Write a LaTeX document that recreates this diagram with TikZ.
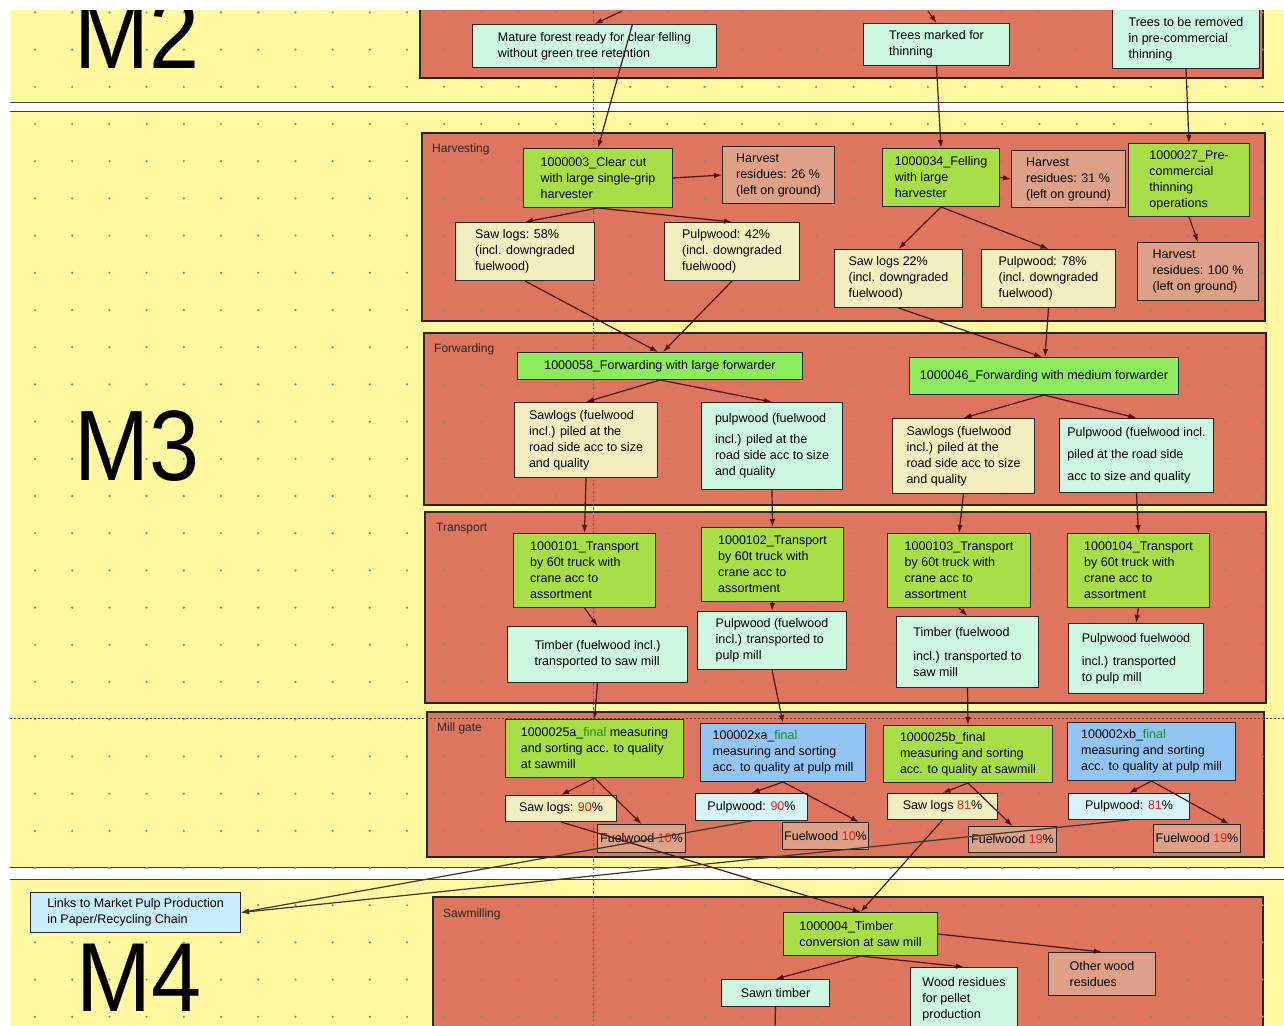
\documentclass[tikz,border=0pt]{standalone}
\usepackage{fontspec}
\setmainfont{Liberation Sans}
\usetikzlibrary{arrows.meta,calc}
\definecolor{bgY}{RGB}{255,248,160}
\definecolor{panelR}{RGB}{221,117,95}
\definecolor{procG}{RGB}{168,222,72}
\definecolor{fwdG}{RGB}{140,236,92}
\definecolor{outY}{RGB}{242,238,192}
\definecolor{outM}{RGB}{206,247,226}
\definecolor{resB}{RGB}{222,160,135}
\definecolor{procB}{RGB}{146,196,244}
\definecolor{outC}{RGB}{214,244,250}
\definecolor{linkC}{RGB}{200,238,250}
\definecolor{arr}{RGB}{80,18,12}
\definecolor{arrL}{RGB}{60,55,40}
\definecolor{finG}{RGB}{30,140,40}
\definecolor{pctR}{RGB}{230,30,30}
\definecolor{dotc}{RGB}{140,140,120}
\newcommand\gfin{\textcolor{finG}{final}}
\newcommand\rpc[1]{\textcolor{pctR}{#1}}
\newcommand\bx[7]{%
  \pgfmathsetmacro\bxw{#4-#2}\pgfmathsetmacro\bxh{#5-#3}%
  \node[box,#6,minimum width=\bxw pt,minimum height=\bxh pt,anchor=north west] (#1) at (#2,#3) {#7};}
\tikzset{
  box/.style={draw=black!85, line width=1pt, inner xsep=1.5pt, inner ysep=1pt, align=left,
    font=\fontsize{12.5}{16}\selectfont},
  panel/.style={draw=black!85, line width=1.1pt, fill=panelR},
  plabel/.style={anchor=base west, inner sep=0pt, font=\fontsize{12}{14}\selectfont, text=black!85},
  big/.style={anchor=base west, inner sep=0pt, font=\fontsize{100}{100}\selectfont},
  conn/.style={draw=arr, line width=1.2pt, -{Latex[length=8pt,width=5.5pt]}},
  connL/.style={draw=arrL, line width=1.2pt, -{Latex[length=8pt,width=5.5pt]}},
  sep/.style={draw=black!75, line width=1pt}
}
\begin{document}
\begin{tikzpicture}[x=1pt,y=-1pt]
\useasboundingbox (0,0) rectangle (1284,1025);
\fill[white] (0,0) rectangle (1284,1025);
\begin{scope}
\clip (10,11) rectangle (1284,1025);
% bands
\fill[bgY] (10,0) rectangle (1284,102);
\fill[bgY] (10,111) rectangle (1284,867);
\fill[bgY] (10,879) rectangle (1284,1030);
\draw[sep] (10,102) -- (1284,102);
\draw[sep] (10,111) -- (1284,111);
\draw[sep] (10,867) -- (1284,867);
\draw[sep] (10,879) -- (1284,879);
% panels
\draw[panel] (420,-5) rectangle (1263,78);
\draw[panel] (422,133) rectangle (1265,321);
\draw[panel] (424,333) rectangle (1266,505);
\draw[panel] (425,512) rectangle (1266,703);
\draw[panel] (427,712) rectangle (1264,857);
\draw[panel] (433,897) rectangle (1263,1040);
% grid dots
\foreach \i in {0,...,33}{\foreach \j in {0,...,27}{\fill[dotc] (35+37.2*\i,12.4+37.2*\j) circle (1.2pt);}}
% guide lines
\draw[black!70, line width=0.6pt, dash pattern=on 2pt off 2pt] (10,718) -- (1284,718);
\draw[black!60, line width=0.6pt, dash pattern=on 3pt off 2pt on 1pt off 2pt] (593,11) -- (593,1025);
% big labels
\node[big] (lm2) at (74,68) {\scalebox{0.9}[1]{M2}};
\node[big] (lm3) at (74,480) {\scalebox{0.9}[1]{M3}};
\node[big] (lm4) at (76,1011) {\scalebox{0.9}[0.98]{M4}};
% panel labels
\node[plabel] (lh) at (432,152) {Harvesting};
\node[plabel] (lf) at (434,352) {Forwarding};
\node[plabel] (lt) at (436,531) {Transport};
\node[plabel] (lg) at (437,731) {Mill gate};
\node[plabel] (ls) at (443,917) {Sawmilling};
% M2 boxes
\bx{mature}{472}{24}{716}{67}{fill=outM}{Mature forest ready for clear felling\\without green tree retention}
\bx{marked}{863}{23}{1009}{65}{fill=outM}{Trees marked for\\thinning}
\bx{removed}{1112}{9}{1259}{68}{fill=outM}{Trees to be removed\\in pre-commercial\\thinning}
% Harvesting
\bx{c3}{523}{148}{672}{207}{fill=procG}{1000003\_Clear cut\\with large single-grip\\harvester}
\bx{r26}{722}{146}{834}{203}{fill=resB}{Harvest\\residues: 26 \%\\(left on ground)}
\bx{s58}{455}{222}{594}{280}{fill=outY}{Saw logs: 58\%\\(incl. downgraded\\fuelwood)}
\bx{p42}{664}{222}{799}{280}{fill=outY}{Pulpwood: 42\%\\(incl. downgraded\\fuelwood)}
\bx{c34}{882}{148}{999}{206}{fill=procG}{1000034\_Felling\\with large\\harvester}
\bx{r31}{1011}{150}{1125}{207}{fill=resB}{Harvest\\residues: 31 \%\\(left on ground)}
\bx{c27}{1128}{143}{1249}{216}{fill=procG}{1000027\_Pre-\\commercial\\thinning\\operations}
\bx{r100}{1137}{242}{1258}{300}{fill=resB}{Harvest\\residues: 100 \%\\(left on ground)}
\bx{s22}{834}{249}{962}{307}{fill=outY}{Saw logs 22\%\\(incl. downgraded\\fuelwood)}
\bx{p78}{981}{249}{1115}{307}{fill=outY}{Pulpwood: 78\%\\(incl. downgraded\\fuelwood)}
% Forwarding
\bx{f58}{517}{352}{802}{379}{fill=fwdG}{1000058\_Forwarding with large forwarder}
\bx{fsl}{514}{402}{657}{477}{fill=outY}{Sawlogs (fuelwood\\incl.) piled at the\\road side acc to size\\and quality}
\bx{fpl}{701}{402}{842}{489}{fill=outM}{pulpwood (fuelwood\\[5pt]incl.) piled at the\\road side acc to size\\and quality}
\bx{f46}{909}{357}{1178}{394}{fill=fwdG}{1000046\_Forwarding with medium forwarder}
\bx{fsr}{892}{418}{1034}{493}{fill=outY}{Sawlogs (fuelwood\\incl.) piled at the\\road side acc to size\\and quality}
\bx{fpr}{1059}{418}{1213}{492}{fill=outM}{Pulpwood (fuelwood incl.\\[6pt]piled at the road side\\[6pt]acc to size and quality}
% Transport
\bx{t101}{513}{533}{655}{607}{fill=procG}{1000101\_Transport\\by 60t truck with\\crane acc to\\assortment}
\bx{tl}{507}{626}{687}{682}{fill=outM}{Timber (fuelwood incl.)\\transported to saw mill}
\bx{t102}{701}{527}{843}{601}{fill=procG}{1000102\_Transport\\by 60t truck with\\crane acc to\\assortment}
\bx{tpm}{697}{611}{846}{669}{fill=outM}{Pulpwood (fuelwood\\incl.) transported to\\pulp mill}
\bx{t103}{887}{533}{1030}{607}{fill=procG}{1000103\_Transport\\by 60t truck with\\crane acc to\\assortment}
\bx{tr}{896}{616}{1038}{687}{fill=outM}{Timber (fuelwood\\[8pt]incl.) transported to\\saw mill}
\bx{t104}{1067}{533}{1209}{607}{fill=procG}{1000104\_Transport\\by 60t truck with\\crane acc to\\assortment}
\bx{tpr}{1068}{623}{1203}{693}{fill=outM}{Pulpwood fuelwood\\[7pt]incl.) transported\\to pulp mill}
% Mill gate
\bx{m25a}{505}{719}{683}{777}{fill=procG}{1000025a\_\gfin{} measuring\\and sorting acc. to quality\\at sawmill}
\bx{sl90}{505}{795}{616}{821}{fill=outY}{Saw logs: \rpc{90}\%}
\bx{fwl}{597}{824}{685}{852}{fill=resB}{Fuelwood \rpc{10}\%}
\bx{mxa}{700}{723}{865}{781}{fill=procB}{100002xa\_\gfin\\measuring and sorting\\acc. to quality at pulp mill}
\bx{pw90}{695}{793}{807}{820}{fill=outC}{Pulpwood: \rpc{90}\%}
\bx{fwm}{782}{822}{868}{849}{fill=resB}{Fuelwood \rpc{10}\%}
\bx{m25b}{883}{725}{1052}{782}{fill=procG}{1000025b\_final\\measuring and sorting\\acc. to quality at sawmill}
\bx{sl81}{887}{793}{997}{819}{fill=outY}{Saw logs \rpc{81}\%}
\bx{fwn}{968}{826}{1056}{852}{fill=resB}{Fuelwood \rpc{19}\%}
\bx{mxb}{1067}{722}{1235}{780}{fill=procB}{100002xb\_\gfin\\measuring and sorting\\acc. to quality at pulp mill}
\bx{pw81}{1068}{793}{1189}{819}{fill=outC}{Pulpwood: \rpc{81}\%}
\bx{fwr}{1153}{824}{1240}{852}{fill=resB}{Fuelwood \rpc{19}\%}
% M4
\bx{links}{30}{892}{240}{932}{fill=linkC}{Links to Market Pulp Production\\in Paper/Recycling Chain}
\bx{c4}{783}{912}{937}{955}{fill=procG}{1000004\_Timber\\conversion at saw mill}
\bx{ow}{1048}{952}{1155}{995}{fill=resB}{Other wood\\residues}
\bx{st}{721}{979}{829}{1006}{fill=outM}{Sawn timber}
\bx{wr}{910}{967}{1017}{1030}{fill=outM}{Wood residues\\for pellet\\production}
% free ends
\coordinate (inA) at (622,11);
\coordinate (inB) at (928,11);
\coordinate (outST) at (775,1030);
% connectors M2
\draw[conn] (inA) -- (mature.north);
\draw[conn] ([xshift=38pt]mature.north) -- (c3.north);
\draw[conn] (inB) -- (marked.north);
\draw[conn] (marked.south) -- (c34.north);
\draw[conn] (removed.south) -- (c27.north);
% Harvesting
\draw[conn] (c3.east) -- (r26.west);
\draw[conn] (c3.south) -- (s58.north);
\draw[conn] (c3.south) -- (p42.north);
\draw[conn] (c34.east) -- (r31.west);
\draw[conn] (c34.south) -- (s22.north);
\draw[conn] (c34.south) -- (p78.north);
\draw[conn] (c27.south) -- (r100.north);
\draw[conn] (s58.south) -- ([xshift=-2pt]f58.north);
\draw[conn] (p42.south) -- ([xshift=3pt]f58.north);
\draw[conn] (s22.south) -- ([xshift=-2pt]f46.north);
\draw[conn] (p78.south) -- ([xshift=1pt]f46.north);
% Forwarding
\draw[conn] (f58.south) -- (fsl.north);
\draw[conn] (f58.south) -- (fpl.north);
\draw[conn] (f46.south) -- (fsr.north);
\draw[conn] (f46.south) -- (fpr.north);
% to transport
\draw[conn] (fsl.south) -- (t101.north);
\draw[conn] (fpl.south) -- (t102.north);
\draw[conn] (fsr.south) -- (t103.north);
\draw[conn] (fpr.south) -- (t104.north);
\draw[conn] (t101.south) -- (tl.north);
\draw[conn] (t102.south) -- (tpm.north);
\draw[conn] (t103.south) -- (tr.north);
\draw[conn] (t104.south) -- (tpr.north);
% to mill gate
\draw[conn] (tl.south) -- (m25a.north);
\draw[conn] (tpm.south) -- (mxa.north);
\draw[conn] (tr.south) -- (m25b.north);
\draw[conn] (m25a.south) -- (sl90.north);
\draw[conn] (m25a.south) -- (fwl.north);
\draw[conn] (mxa.south) -- (pw90.north);
\draw[conn] (mxa.south) -- ([xshift=-10pt]fwm.north east);
\draw[conn] (m25b.south) -- (sl81.north);
\draw[conn] (m25b.south) -- (fwn.north);
\draw[conn] (mxb.south) -- (pw81.north);
\draw[conn] (mxb.south) -- ([xshift=-12pt]fwr.north east);
% long connectors
\draw[conn] (sl90.south) -- (c4.north);
\draw[conn] (sl81.south) -- (c4.north);
\draw[connL] (pw90.south) -- (links.east);
\draw[connL] (pw81.south) -- (links.east);
% sawmilling
\draw[conn] (c4.south) -- (st.north);
\draw[conn] (c4.south) -- (wr.north);
\draw[conn] (c4.east) -- (ow.north);
\draw[draw=arr, line width=1.2pt] (st.south) -- (outST);
\end{scope}
\end{tikzpicture}
\end{document}
